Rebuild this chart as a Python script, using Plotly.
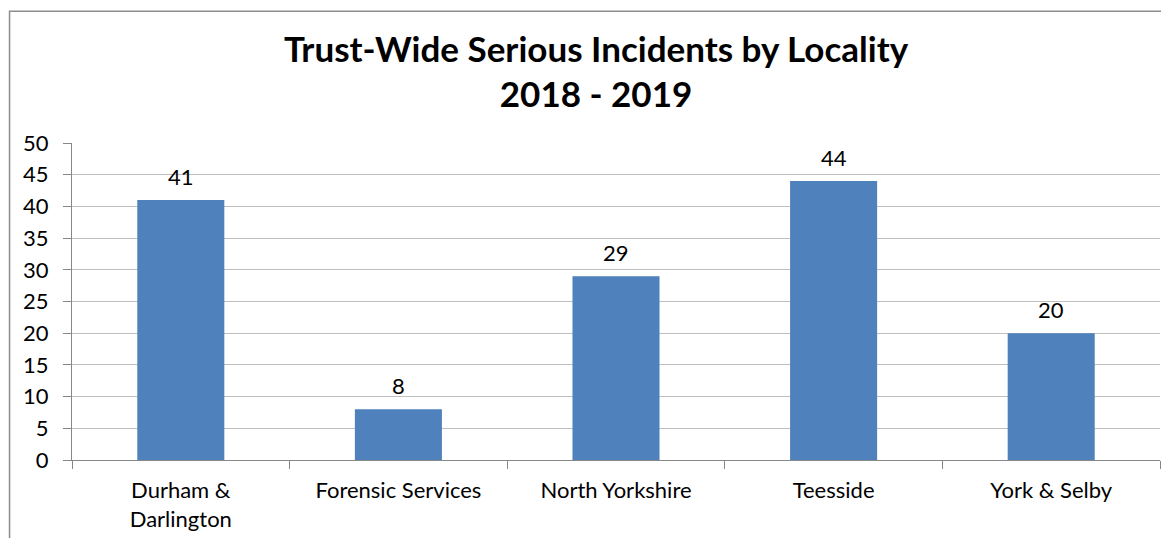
import plotly.graph_objects as go

categories = ["Durham &<br>Darlington", "Forensic Services", "North Yorkshire", "Teesside", "York & Selby"]
values = [41, 8, 29, 44, 20]
y_ticks = [0, 5, 10, 15, 20, 25, 30, 35, 40, 45, 50]

FONT = "Lato"

fig = go.Figure(go.Bar(
    x=categories, y=values,
    marker=dict(color="#4F81BD", line=dict(width=0)),
    cliponaxis=False,
    width=0.4,
))
for c, v in zip(categories, values):
    fig.add_annotation(x=c, y=v, text=str(v), showarrow=False,
                       yanchor="bottom", yshift=8,
                       font=dict(family=FONT, size=22, color="#000000"))

fig.update_layout(
    width=1161, height=530,
    margin=dict(l=64, r=9, t=135, b=78),
    paper_bgcolor="white", plot_bgcolor="white",
    showlegend=False,
    title=dict(
        text="<b>Trust-Wide Serious Incidents by Locality<br>2018 - 2019</b>",
        x=0.5065, xanchor="center", y=0.899, yanchor="middle",
        font=dict(family=FONT, size=35, color="#000000"),
    ),
    font=dict(family=FONT, size=22, color="#000000"),
)
fig.update_xaxes(
    type="category", tickson="boundaries", ticks="outside", ticklen=8,
    tickcolor="#888888", showline=True, linecolor="#888888", linewidth=1,
    showgrid=False, tickfont=dict(family=FONT, size=22, color="#000000"),
    ticklabelstandoff=11, automargin=False,
)
fig.update_yaxes(
    range=[0, 50], tickvals=y_ticks, ticks="outside", ticklen=8,
    tickcolor="#888888", showline=True, linecolor="#888888", linewidth=1,
    showgrid=True, gridcolor="#BFBFBF", gridwidth=1, zeroline=False,
    tickfont=dict(family=FONT, size=22, color="#000000"),
    ticklabelstandoff=10, automargin=False,
)
fig.add_shape(type="rect", xref="paper", yref="paper",
              x0=-0.0574, x1=1.1, y0=-0.3, y1=1.416,
              line=dict(color="#8c8c8c", width=1.5), fillcolor="rgba(0,0,0,0)", layer="below")

fig.write_html("out.html")
